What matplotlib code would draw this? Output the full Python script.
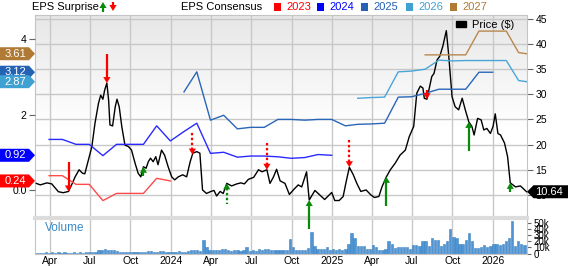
import numpy as np
import pandas as pd
import matplotlib
matplotlib.use('Agg')
import matplotlib.pyplot as plt
import matplotlib.dates as mdates
from matplotlib.patches import Polygon, Rectangle, Patch
from matplotlib.lines import Line2D
from matplotlib.transforms import IdentityTransform

plt.rcParams['font.family'] = ['Liberation Sans', 'DejaVu Sans']

# ---- price (closing, $) ----
price_dates = [
    "2023-03-02", "2023-03-11", "2023-03-26", "2023-04-06", "2023-04-21", "2023-05-02",
    "2023-05-14", "2023-05-21", "2023-05-29", "2023-06-07", "2023-06-15", "2023-06-20",
    "2023-06-28", "2023-07-06", "2023-07-13", "2023-07-21", "2023-07-26", "2023-07-31",
    "2023-08-04", "2023-08-09", "2023-08-13", "2023-08-16", "2023-08-22", "2023-08-28",
    "2023-09-01", "2023-09-06", "2023-09-12", "2023-09-19", "2023-09-27", "2023-10-04",
    "2023-10-12", "2023-10-19", "2023-10-25", "2023-10-31", "2023-11-06", "2023-11-11",
    "2023-11-16", "2023-11-22", "2023-11-28", "2023-12-03", "2023-12-11", "2023-12-18",
    "2023-12-26", "2024-01-03", "2024-01-10", "2024-01-18", "2024-01-28", "2024-02-06",
    "2024-02-14", "2024-02-20", "2024-02-29", "2024-03-07", "2024-03-13", "2024-03-22",
    "2024-04-01", "2024-04-08", "2024-04-14", "2024-04-22", "2024-04-29", "2024-05-07",
    "2024-05-18", "2024-05-30", "2024-06-08", "2024-06-16", "2024-06-25", "2024-07-07",
    "2024-07-18", "2024-07-26", "2024-08-06", "2024-08-13", "2024-08-21", "2024-08-28",
    "2024-09-05", "2024-09-16", "2024-09-26", "2024-10-05", "2024-10-16", "2024-10-24",
    "2024-11-04", "2024-11-10", "2024-11-23", "2024-12-04", "2024-12-15", "2024-12-31",
    "2025-01-07", "2025-01-17", "2025-01-26", "2025-02-01", "2025-02-09", "2025-02-18",
    "2025-02-26", "2025-03-07", "2025-03-19", "2025-03-30", "2025-04-07", "2025-04-17",
    "2025-04-24", "2025-05-04", "2025-05-13", "2025-05-24", "2025-06-04", "2025-06-16",
    "2025-06-25", "2025-07-05", "2025-07-12", "2025-07-20", "2025-07-26", "2025-07-29",
    "2025-08-04", "2025-08-10", "2025-08-15", "2025-08-20", "2025-08-27", "2025-09-02",
    "2025-09-09", "2025-09-17", "2025-09-22", "2025-09-30", "2025-10-07", "2025-10-15",
    "2025-10-23", "2025-10-30", "2025-11-07", "2025-11-14", "2025-11-19", "2025-11-27",
    "2025-12-05", "2025-12-11", "2025-12-18", "2025-12-26", "2026-01-01", "2026-01-06",
    "2026-01-12", "2026-01-18", "2026-01-27", "2026-02-03", "2026-02-09", "2026-02-21",
    "2026-03-04", "2026-03-18",
]
price_vals = [
    12.3, 12.0, 12.4, 12.2, 10.65, 10.45,
    10.7, 12.0, 13.6, 15.0, 14.3, 14.2,
    16.9, 19.6, 24.2, 28.2, 29.8, 29.0,
    30.8, 32.2, 28.8, 23.9, 23.7, 27.5,
    29.0, 27.5, 23.5, 19.9, 19.6, 18.9,
    16.3, 14.3, 13.6, 15.6, 15.3, 16.6,
    17.3, 16.6, 17.6, 16.0, 18.9, 17.9,
    15.6, 13.6, 13.0, 13.6, 14.0, 13.6,
    16.6, 18.3, 18.6, 18.3, 11.0, 10.3,
    10.7, 10.9, 9.8, 10.7, 10.3, 12.3,
    11.8, 12.2, 12.4, 12.2, 13.1, 13.5,
    15.0, 14.6, 15.0, 12.3, 13.6, 15.1,
    12.8, 12.3, 10.1, 11.0, 12.0, 11.6,
    14.6, 9.0, 10.9, 10.0, 9.1, 10.5,
    8.9, 8.9, 9.7, 12.3, 15.5, 14.0,
    12.3, 10.7, 11.0, 10.0, 9.5, 9.7,
    11.6, 13.6, 15.0, 16.3, 17.9, 18.9,
    21.6, 23.6, 30.2, 31.6, 31.2, 29.2,
    29.0, 31.5, 33.5, 34.1, 36.8, 37.5,
    39.5, 42.6, 38.1, 29.5, 27.5, 26.9,
    29.2, 26.9, 24.5, 23.6, 21.9, 25.2,
    24.9, 22.9, 23.2, 22.2, 23.6, 26.1,
    22.2, 21.9, 20.3, 17.6, 12.4, 11.6,
    11.8, 10.64,
]
last_price = 10.64

# ---- EPS consensus by fiscal year (month-end readings) ----
eps2023_start, eps2023 = "2023-03-31", [0.38, 0.38, 0.15, 0.15, -0.28, -0.09, -0.09, -0.09, 0.31, 0.24]
eps2024_start, eps2024 = "2023-03-31", [1.34, 1.34, 1.21, 1.21, 0.91, 1.21, 1.21, 1.21, 1.70, 1.30,
                                        1.55, 1.77, 0.97, 1.00, 0.87, 0.90, 0.90, 0.88, 0.84, 0.86,
                                        0.94, 0.92]
eps2025_start, eps2025 = "2024-01-31", [2.60, 3.13, 1.85, 1.98, 1.62, 1.66, 1.66, 1.87, 1.87, 1.85,
                                        1.87, 1.87, 1.70, 1.74, 1.75, 1.77, 2.46, 2.47, 2.56, 2.67,
                                        2.67, 2.67, 3.12, 3.12]
eps2026_start, eps2026 = "2025-02-28", [2.43, 2.45, 2.46, 3.13, 3.15, 3.20, 3.44, 3.42, 3.43, 3.43,
                                        3.43, 3.43, 2.90]
eps2027_start, eps2027 = "2025-07-31", [3.58, 3.58, 3.58, 3.58, 4.21, 4.21, 4.21, 3.64]
eps_today = "2026-03-18"
eps2026_today, eps2027_today = 2.87, 3.61

# ---- EPS surprise events ----
surprise_dates = ["2023-05-14", "2023-08-09", "2023-10-31", "2024-02-19", "2024-05-07", "2024-08-06",
                  "2024-11-10", "2025-02-09", "2025-05-04", "2025-08-04", "2025-11-07", "2026-02-09"]
surprise_beat = [False, False, True, False, True, False, True, False, True, False, True, True]
surprise_mag = [1.0, 1.0, 0.32, 0.8, 0.7, 1.0, 1.0, 1.0, 1.0, 0.32, 1.0, 0.32]
surprise_dashed = [False, False, False, True, True, True, False, True, False, False, False, False]

# ---- weekly volume (thousands) ----
volume_k = [
    1, 1, 1, 2, 1,   2, 1, 2, 1,   2, 1, 1, 2,   1, 2, 1, 2, 2,   2, 3, 5, 6,   7, 6, 5, 6,
    4, 3, 3, 2, 2,   3, 2, 2, 3,   2, 4, 4, 3,   3, 4, 4, 3, 2,
    3, 3, 4, 3,   3, 4, 5, 6,   5, 4, 22, 11, 6,   6, 6, 5, 7,   8, 5, 4, 5, 5,   4, 5, 10, 4,
    5, 4, 7, 6,   8, 7, 5, 6, 5,   5, 5, 5, 24,   10, 6, 6, 6,   6, 9, 34, 12, 7,   7, 7, 10, 6,
    7, 6, 7, 5, 8,   15, 33, 25, 12,   12, 12, 8, 8,   13, 11, 6, 6,   7, 20, 16, 9, 11,
    11, 11, 11, 7,   13, 14, 12, 20,   20, 12, 25, 22, 21,   12, 16, 20, 40,
    26, 25, 16, 16, 22,   33, 20, 9, 9,   11, 13, 10, 12,
    15, 16, 13, 15, 20,   25, 53, 12, 20,   15, 13,
]
volume_dates = pd.date_range("2023-03-03", periods=len(volume_k), freq="W-FRI")

year_colors = {"2023": "#ff0000", "2024": "#0000ff", "2025": "#2462b4", "2026": "#3fa0d2", "2027": "#b07a34"}
line_colors = {"2023": "#ff4a4a", "2024": "#2a2aff", "2025": "#2a66b8", "2026": "#4aa6d8", "2027": "#b8884e"}

# ------------------------------------------------------------------
W, H = 568, 266
L, R = 35, 527
fig = plt.figure(figsize=(W / 100, H / 100), dpi=100)
ax = fig.add_axes([L / W, (H - 217) / H, (R - L) / W, 202 / H])
axv = fig.add_axes([L / W, 12.5 / H, (R - L) / W, 35.5 / H])

pd_dates = pd.to_datetime(price_dates)
pnum = mdates.date2num(pd_dates)

# background gradient
g = np.linspace(0, 1, 200).reshape(-1, 1)
shade = np.clip(0.905 + 0.095 * g / 0.55, 0, 1)
ax.imshow(np.dstack([shade] * 3), extent=[0, 1, 0, 1], transform=ax.transAxes,
          aspect='auto', zorder=-10, origin='upper')

x0 = mdates.date2num(pd.Timestamp("2023-02-27"))
x1 = mdates.date2num(pd.Timestamp("2026-03-19"))
qticks = pd.date_range("2023-04-01", "2026-01-01", freq="QS")
qlabels = [d.strftime("%Y") if d.month == 1 else d.strftime("%b") for d in qticks]

for a in (ax, axv):
    a.set_xlim(x0, x1)
    a.set_xticks(mdates.date2num(qticks))
    a.grid(True, axis='x', color='#c8c8c8', lw=1)
    a.set_axisbelow(True)
    for s in a.spines.values():
        s.set_color('#c4c4c4')
ax.set_ylim(5.63, 45.71)
ax.set_yticks([10, 15, 20, 25, 30, 35, 40, 45])
ax.grid(True, axis='y', color='#c8c8c8', lw=1)
ax.tick_params(axis='x', labelbottom=False, length=0)

ax.plot(pnum, price_vals, color='black', lw=1.0, zorder=3)

# EPS axis (left), price stays on the right
axe = ax.twinx()
ax.yaxis.tick_right()
ax.tick_params(axis='y', labelsize=7.5, length=4, color='#666666', pad=2)
axe.set_ylim(-0.715, 4.636)
axe.yaxis.tick_left()
axe.set_yticks([0, 2, 4])
axe.set_yticklabels(["0.0", "2", "4"])
axe.tick_params(axis='y', labelsize=7.5, length=4, color='#666666', pad=2)
for s in axe.spines.values():
    s.set_visible(False)


def month_line(start, vals, extra=None):
    d = list(pd.date_range(start, periods=len(vals), freq="ME"))
    v = list(vals)
    if extra is not None:
        d.append(pd.Timestamp(extra[0]))
        v.append(extra[1])
    return mdates.date2num(pd.DatetimeIndex(d)), v


for yr, start, vals, extra in [("2023", eps2023_start, eps2023, None),
                               ("2024", eps2024_start, eps2024, None),
                               ("2025", eps2025_start, eps2025, None),
                               ("2026", eps2026_start, eps2026, (eps_today, eps2026_today)),
                               ("2027", eps2027_start, eps2027, (eps_today, eps2027_today))]:
    xs, ys = month_line(start, vals, extra)
    axe.plot(xs, ys, color=line_colors[yr], lw=1.0, zorder=2)

axe.legend(handles=[Patch(color='black', label='Price ($)')], loc='center right',
           bbox_to_anchor=(0.985, 0.95), frameon=False, fontsize=8,
           handlelength=0.9, handleheight=0.5, handletextpad=0.5, borderpad=0)

# volume
vnum = mdates.date2num(volume_dates)
axv.bar(vnum, volume_k, width=5.2, color='#4f95d3', edgecolor='#3c82c4', lw=0.4)
axv.set_ylim(0, 57.3)
axv.yaxis.tick_right()
axv.set_yticks([0, 10, 20, 30, 40, 50])
axv.set_yticklabels(["0", "10k", "20k", "30k", "40k", "50k"])
axv.tick_params(axis='y', labelsize=7, length=3, color='#666666', pad=2)
axv.set_xticklabels(qlabels)
axv.tick_params(axis='x', labelsize=7.5, length=0, pad=2)
axv.spines['top'].set_color('#dcdcdc')
axv.spines['top'].set_linewidth(3)
axv.text(0.02, 0.72, "Volume", transform=axv.transAxes, fontsize=8.5, color='#3a8ac8',
         va='center', ha='left')

ID = IdentityTransform()


def draw_arrow(tx, ty, up, dashed, length, color):
    s = 1 if up else -1
    head_h, head_w = 6, 3.6
    fig.add_artist(Polygon([(tx - head_w, ty - s * head_h), (tx + head_w, ty - s * head_h), (tx, ty)],
                           closed=True, fc=color, ec='none', transform=ID, zorder=6))
    fig.add_artist(Line2D([tx, tx], [ty - s * (head_h - 1), ty - s * length], color=color, lw=1.6,
                          ls=(0, (1.1, 1.1)) if dashed else '-', transform=ID, zorder=6,
                          solid_capstyle='butt', dash_capstyle='butt'))


sd = mdates.date2num(pd.to_datetime(surprise_dates))
for d, beat, mag, dash in zip(sd, surprise_beat, surprise_mag, surprise_dashed):
    p = np.interp(d, pnum, price_vals)
    tx, ty = ax.transData.transform((d, p))
    draw_arrow(tx, ty, beat, dash, 29 * mag, '#0a8a0a' if beat else '#ff0000')


def tag(yc, text, color, side):
    h = 6.5
    if side == 'left':
        pts = [(0, yc - h), (29, yc - h), (35, yc), (29, yc + h), (0, yc + h)]
        tx = 15
    else:
        pts = [(527, yc), (533.5, yc - h), (W, yc - h), (W, yc + h), (533.5, yc + h)]
        tx = 549
    fig.add_artist(Polygon(pts, closed=True, fc=color, ec='none', transform=ID, zorder=7))
    fig.text(tx / W, yc / H, text, color='white', fontsize=8, ha='center', va='center', zorder=8)


def eps_y(v):
    return axe.transData.transform((x0, v))[1]


tag(eps_y(eps2027_today), f"{eps2027_today:.2f}", year_colors["2027"], 'left')
tag(eps_y(eps2025[-1]), f"{eps2025[-1]:.2f}", year_colors["2025"], 'left')
tag(eps_y(eps2026_today), f"{eps2026_today:.2f}", year_colors["2026"], 'left')
tag(eps_y(eps2024[-1]), f"{eps2024[-1]:.2f}", year_colors["2024"], 'left')
tag(eps_y(eps2023[-1]), f"{eps2023[-1]:.2f}", year_colors["2023"], 'left')
tag(ax.transData.transform((x0, last_price))[1], f"{last_price:.2f}", 'black', 'right')

# top legend
ty = H - 6.5
fig.text(32 / W, ty / H, "EPS Surprise", fontsize=8, ha='left', va='center')
draw_arrow(103, ty + 4.5, True, False, 9.5, '#0a8a0a')
draw_arrow(113, ty - 4.5, False, False, 9.5, '#ff0000')
fig.text(181 / W, ty / H, "EPS Consensus", fontsize=8, ha='left', va='center')
for yr, sx in zip(["2023", "2024", "2025", "2026", "2027"], [274, 317, 361, 406, 450]):
    fig.add_artist(Rectangle((sx, ty - 4), 7, 8, fc=year_colors[yr], ec='none', transform=ID))
    fig.text((sx + 12) / W, ty / H, yr, fontsize=8, color=year_colors[yr], ha='left', va='center')

fig.savefig("out.png", dpi=100)
